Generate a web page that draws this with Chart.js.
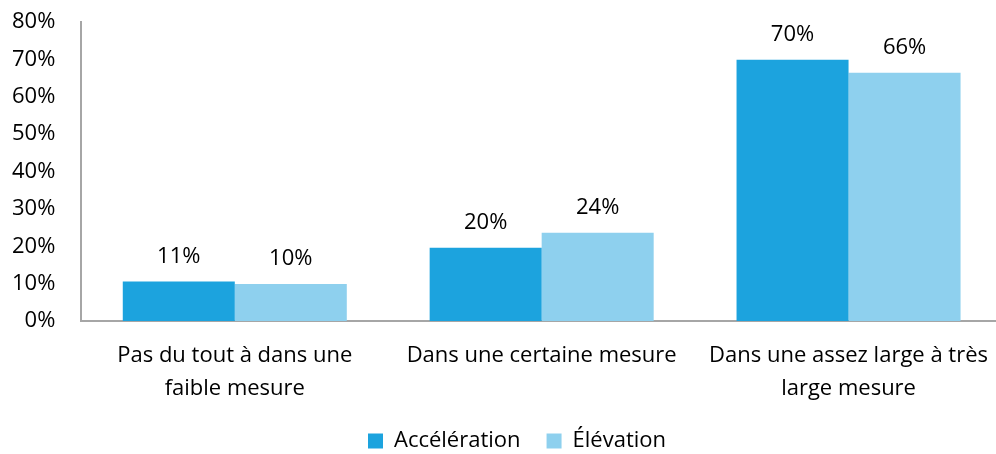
<!DOCTYPE html>
<html>
<head>
<meta charset="utf-8">
<script src="https://cdn.jsdelivr.net/npm/chart.js@4"></script>
<style>
  body { margin: 0; overflow: hidden; background: #fff; }
  #wrap { width: 1006px; height: 454px; }
</style>
</head>
<body>
<div id="wrap"><canvas id="chart" width="1006" height="454"></canvas></div>
<script>
const categories = [
  ["Pas du tout à dans une", "faible mesure"],
  "Dans une certaine mesure",
  ["Dans une assez large à très", "large mesure"]
];
const acceleration = [10.6, 19.6, 69.9];
const elevation = [9.9, 23.6, 66.4];
const yTicks = [0, 10, 20, 30, 40, 50, 60, 70, 80];

const police = "'Open Sans', Lato, sans-serif";

// etiquettes au-dessus des barres
const etiquettes = {
  id: 'etiquettes',
  afterDatasetsDraw(chart) {
    const ctx = chart.ctx;
    ctx.save();
    ctx.font = "22px " + police;
    ctx.fillStyle = "#000";
    ctx.textAlign = "center";
    ctx.textBaseline = "bottom";
    chart.data.datasets.forEach((ds, i) => {
      chart.getDatasetMeta(i).data.forEach((bar, j) => {
        ctx.fillText(Math.round(ds.data[j]) + "%", bar.x, bar.y - 14);
      });
    });
    ctx.restore();
  }
};

// place la légende : texte centré vers x=517, y=441
const placeLegende = {
  id: 'placeLegende',
  afterLayout(chart) {
    const lg = chart.legend;
    const dx = 517 - (lg.left + lg.right) / 2;
    const dy = 433 - (lg.top + lg.height / 2);
    lg.left += dx; lg.right += dx;
    lg.top += dy; lg.bottom += dy;
  }
};

const chart = new Chart(document.getElementById("chart"), {
  type: "bar",
  data: {
    labels: categories,
    datasets: [
      { label: "Accélération", data: acceleration, backgroundColor: "#1CA3DE" },
      { label: "Élévation", data: elevation, backgroundColor: "#8ED0EE" }
    ]
  },
  options: {
    responsive: false,
    animation: false,
    categoryPercentage: 0.73,
    barPercentage: 1,
    layout: { padding: { left: -14, right: 0, top: 22, bottom: -27 } },
    scales: {
      x: {
        grid: { display: false, drawTicks: false },
        border: { color: "#A6A6A6", width: 2 },
        ticks: { color: "#000", font: { family: police, size: 22, lineHeight: 1.5 }, padding: 18, maxRotation: 0 }
      },
      y: {
        min: 0, max: 80,
        afterBuildTicks: s => { s.ticks = yTicks.map(v => ({ value: v })); },
        afterFit: s => { s.paddingTop = 0; s.paddingBottom = 0; },
        grid: { display: false, drawTicks: false },
        border: { color: "#A6A6A6", width: 2 },
        ticks: { color: "#000", font: { family: police, size: 22 }, padding: 26, callback: v => v + "%" }
      }
    },
    plugins: {
      legend: {
        position: "bottom",
        labels: {
          color: "#000", font: { family: police, size: 22 },
          boxWidth: 15, boxHeight: 15, padding: 26
        }
      },
      tooltip: { enabled: false }
    }
  },
  plugins: [etiquettes, placeLegende]
});
</script>
</body>
</html>
